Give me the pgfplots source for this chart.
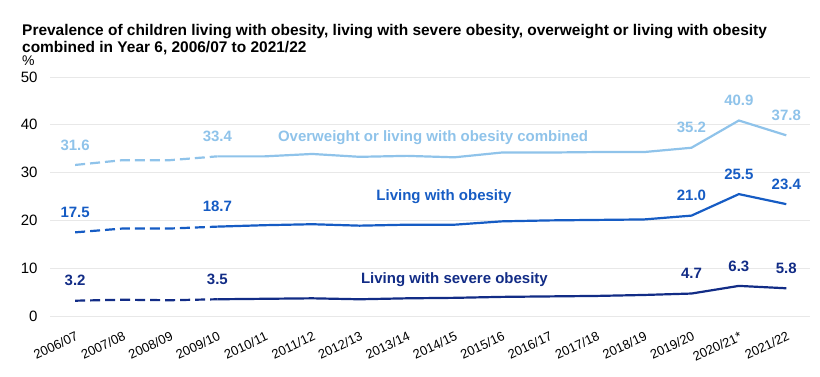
\documentclass[border=0pt]{standalone}
\usepackage{pgfplots}
\pgfplotsset{compat=1.18}
\usepackage{fontspec}
\setmainfont{Liberation Sans}
\definecolor{cLight}{RGB}{143,195,234}
\definecolor{cMid}{RGB}{22,92,196}
\definecolor{cDark}{RGB}{18,44,134}
\definecolor{cGrid}{RGB}{232,232,232}
\begin{document}
\begin{tikzpicture}[x=1pt,y=1pt]
\path[use as bounding box] (0,0) rectangle (820,376);
\node[anchor=base west,font=\fontsize{15.45}{17}\selectfont\bfseries,inner sep=0pt] at (22,340.5) {Prevalence of children living with obesity, living with severe obesity, overweight or living with obesity};
\node[anchor=base west,font=\fontsize{15.45}{17}\selectfont\bfseries,inner sep=0pt] at (22,323.5) {combined in Year 6, 2006/07 to 2021/22};
\node[anchor=west,font=\fontsize{14}{16}\selectfont,inner sep=0pt] at (22,315) {\%};
\begin{axis}[
  at={(50pt,60pt)}, anchor=south west,
  scale only axis, width=760pt, height=239pt,
  xmin=-0.53, xmax=15.5, ymin=0, ymax=50,
  ytick={0,10,20,30,40,50},
  ymajorgrids, grid style={cGrid, line width=1pt},
  axis line style={draw=none},
  major tick length=0pt,
  xtick={0,...,15},
  xticklabels={2006/07,2007/08,2008/09,2009/10,2010/11,2011/12,2012/13,2013/14,2014/15,2015/16,2016/17,2017/18,2018/19,2019/20,2020/21*,2021/22},
  x tick label style={yshift=-15pt, xshift=0pt, rotate=25, anchor=north east, font=\fontsize{13}{15}\selectfont, inner sep=0pt},
  y tick label style={font=\fontsize{15}{17}\selectfont, xshift=-9pt},
  /pgf/number format/assume math mode=true,
  clip=false,
  every axis plot/.append style={line width=2.2pt, mark=none},
  nodes near coords style={font=\fontsize{15}{17}\selectfont\bfseries, anchor=center, yshift=20pt},
]
% Overweight or obese
\addplot[cLight, dashed, dash pattern=on 10pt off 5pt] coordinates {(0,31.6)(1,32.6)(2,32.6)(3,33.4)};
\addplot[cLight] coordinates {(3,33.4)(4,33.4)(5,33.9)(6,33.3)(7,33.5)(8,33.2)(9,34.2)(10,34.2)(11,34.3)(12,34.3)(13,35.2)(14,40.9)(15,37.8)};
% Obese
\addplot[cMid, dashed, dash pattern=on 10pt off 5pt] coordinates {(0,17.5)(1,18.3)(2,18.3)(3,18.7)};
\addplot[cMid] coordinates {(3,18.7)(4,19.0)(5,19.2)(6,18.9)(7,19.1)(8,19.1)(9,19.8)(10,20.0)(11,20.1)(12,20.2)(13,21.0)(14,25.5)(15,23.4)};
% Severe
\addplot[cDark, dashed, dash pattern=on 10pt off 5pt] coordinates {(0,3.2)(1,3.4)(2,3.3)(3,3.5)};
\addplot[cDark] coordinates {(3,3.5)(4,3.6)(5,3.7)(6,3.5)(7,3.7)(8,3.8)(9,4.0)(10,4.1)(11,4.2)(12,4.4)(13,4.7)(14,6.3)(15,5.8)};
% labels
\addplot[draw=none, nodes near coords, point meta=explicit symbolic, every node near coord/.append style={text=cLight}] coordinates {(0,31.6)[31.6](3,33.4)[33.4](13,35.2)[35.2](14,40.9)[40.9](15,37.8)[37.8]};
\addplot[draw=none, nodes near coords, point meta=explicit symbolic, every node near coord/.append style={text=cMid}] coordinates {(0,17.5)[17.5](3,18.7)[18.7](13,21.0)[21.0](14,25.5)[25.5](15,23.4)[23.4]};
\addplot[draw=none, nodes near coords, point meta=explicit symbolic, every node near coord/.append style={text=cDark}] coordinates {(0,3.2)[3.2](3,3.5)[3.5](13,4.7)[4.7](14,6.3)[6.3](15,5.8)[5.8]};
\node[font=\fontsize{15}{17}\selectfont\bfseries, text=cLight] at (axis cs:7.55,37.4) {Overweight or living with obesity combined};
\node[font=\fontsize{15}{17}\selectfont\bfseries, text=cMid] at (axis cs:7.78,24.9) {Living with obesity};
\node[font=\fontsize{15}{17}\selectfont\bfseries, text=cDark] at (axis cs:8.0,7.7) {Living with severe obesity};
\end{axis}
\end{tikzpicture}
\end{document}
